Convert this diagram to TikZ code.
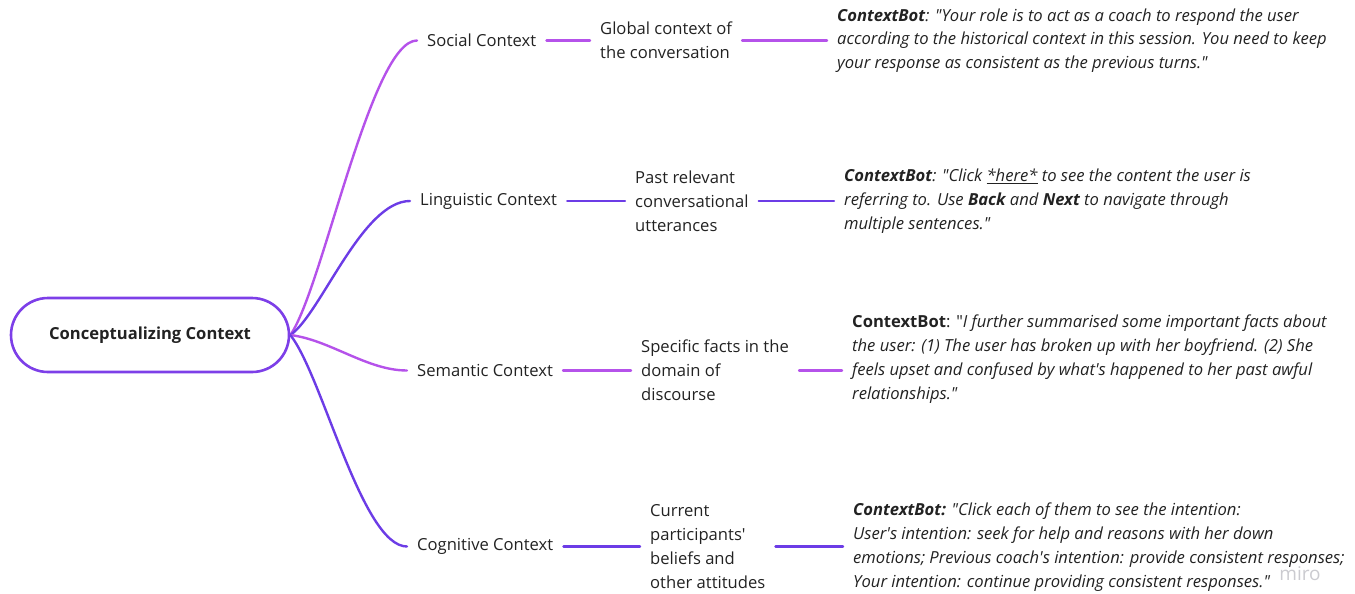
\documentclass[tikz,border=0pt]{standalone}
\usepackage{fontspec}
\setmainfont{Open Sans}[Ligatures=TeXOff]
\definecolor{pinkp}{HTML}{B552EA}
\definecolor{bluep}{HTML}{6C3CE6}
\definecolor{rootp}{HTML}{7D3FE8}
\definecolor{txt}{HTML}{222222}
\definecolor{wm}{HTML}{CBCBD0}
\begin{document}
\begin{tikzpicture}[x=1pt,y=-1pt,
  lbl/.style={inner xsep=10pt, inner ysep=0pt, align=left, anchor=west, text=txt,
    font=\fontsize{16.6}{23.8}\selectfont},
  itlbl/.style={lbl, font=\fontsize{16.6}{23.8}\selectfont\itshape},
  pinkline/.style={draw=pinkp, line width=2.4pt, line cap=round},
  blueline/.style={draw=bluep, line width=2.4pt, line cap=round},
  rootbox/.style={draw=rootp, line width=2.6pt, rounded corners=37pt, minimum width=278pt,
    minimum height=74pt, text=txt, font=\fontsize{16.6}{20}\selectfont\bfseries, inner sep=0pt}]
\useasboundingbox (0,0) rectangle (1355,594);

\node[rootbox] (root) at (150,335) {Conceptualizing Context};

% first level
\node[lbl] (soc) at (417,40.5) {Social Context};
\node[lbl] (lin) at (410,201) {Linguistic Context};
\node[lbl] (sem) at (407,370.5) {Semantic Context};
\node[lbl] (cog) at (407,546.5) {Cognitive Context};

% second level
\node[lbl] (soc2) at (590,40.5) {Global context of\\the conversation};
\node[lbl] (lin2) at (625,201) {Past relevant\\conversational\\utterances};
\node[lbl] (sem2) at (631,370.5) {Specific facts in the\\domain of\\discourse};
\node[lbl] (cog2) at (640,546.5) {Current\\participants'\\beliefs and\\other attitudes};

% third level
\node[itlbl] (soc3) at (827,40.5) {\textbf{ContextBot}: "Your role is to act as a coach to respond the user\\according to the historical context in this session. You need to keep\\your response as consistent as the previous turns."};
\node[itlbl] (lin3) at (834,201) {\textbf{ContextBot}: "Click \underline{*here*} to see the content the user is\\referring to. Use \textbf{Back} and \textbf{Next} to navigate through\\multiple sentences."};
\node[lbl] (sem3) at (842,359) {\textbf{ContextBot}: "\textit{I further summarised some important facts about}\\\textit{the user: (1) The user has broken up with her boyfriend. (2) She}\\\textit{feels upset and confused by what's happened to her past awful}\\\textit{relationships."}};
\node[itlbl] (cog3) at (843,547) {\textbf{ContextBot:} "Click each of them to see the intention:\\User's intention: seek for help and reasons with her down\\emotions; Previous coach's intention: provide consistent responses;\\Your intention: continue providing consistent responses."};

\node[text=wm, font=\fontsize{19}{22}\selectfont, inner sep=0pt] (wmark) at (1300,574) {miro};

% connectors
\draw[pinkline] (root.east) .. controls +(32,-45) and +(-46,0) .. (soc.west);
\draw[blueline] (root.east) .. controls +(30,-20) and +(-48,0) .. (lin.west);
\draw[pinkline] (root.east) .. controls +(40,5) and +(-40,0) .. (sem.west);
\draw[blueline] (root.east) .. controls +(32,40) and +(-45,0) .. (cog.west);

\draw[pinkline] (soc.east) -- (soc2.west |- soc.east);
\draw[blueline] (lin.east) -- (lin2.west |- lin.east);
\draw[pinkline] (sem.east) -- (sem2.west |- sem.east);
\draw[blueline] (cog.east) -- (cog2.west |- cog.east);

\draw[pinkline] (soc2.east |- soc.east) -- (soc3.west |- soc.east);
\draw[blueline] (lin2.east |- lin.east) -- (lin3.west |- lin.east);
\draw[pinkline] (sem2.east |- sem.east) -- (sem3.west |- sem.east);
\draw[blueline] (cog2.east |- cog.east) -- (cog3.west |- cog.east);
\end{tikzpicture}
\end{document}
